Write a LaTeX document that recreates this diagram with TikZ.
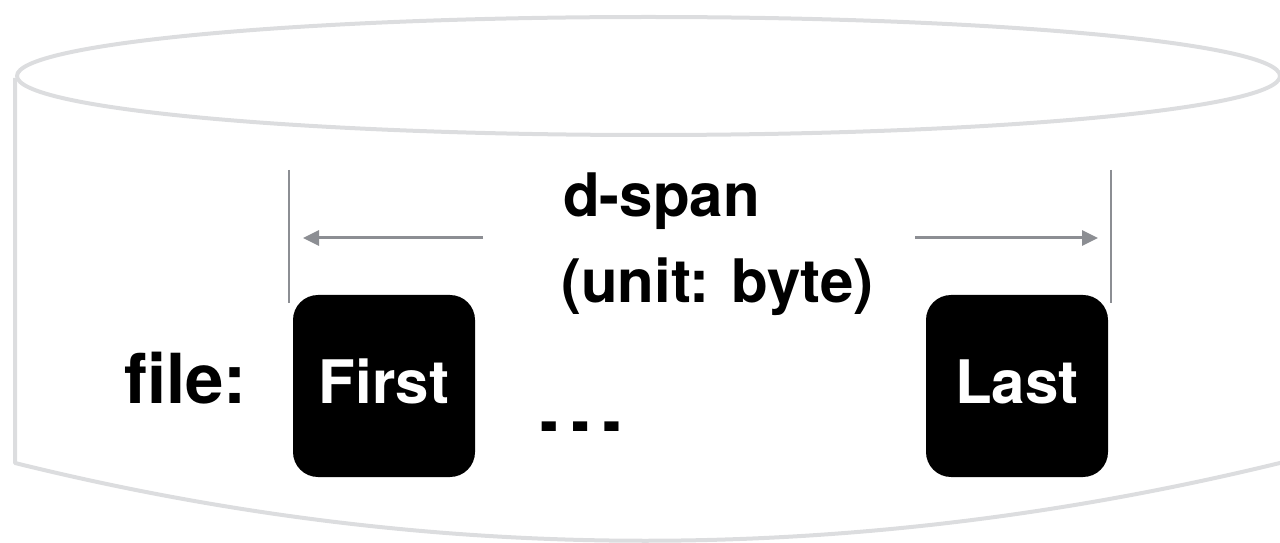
\documentclass[tikz,border=0pt]{standalone}
\usepackage{fontspec}
\setmainfont{TeX Gyre Heros}
\usetikzlibrary{arrows.meta}

\definecolor{shell}{HTML}{DCDDDF}
\definecolor{dimgray}{HTML}{8C8E93}

\tikzset{
  shellline/.style={draw=shell, line width=4bp, line join=round},
  extline/.style={draw=dimgray, line width=2.5bp},
  dimarrow/.style={draw=dimgray, line width=3bp, -{Triangle[length=16bp, width=15bp]}},
  blockbox/.style={fill=black, rounded corners=25bp},
  label/.style={inner sep=0pt, anchor=base west, font=\fontsize{60bp}{70bp}\selectfont\bfseries},
  blocktext/.style={inner sep=0pt, anchor=base, text=white, font=\fontsize{60bp}{70bp}\selectfont\bfseries},
}

\begin{document}
\begin{tikzpicture}[x=1bp, y=-1bp]
  \useasboundingbox (0,0) rectangle (1280,543);

  % cylinder body: left side and curved bottom (right side lies past the edge)
  \draw[shellline] (15,78) -- (15,463)
    .. controls (436,567) and (858,567) .. (1288,461);
  % cylinder lid
  \draw[shellline] (648.5,76) ellipse [x radius=631.5, y radius=59];

  % data blocks
  \fill[blockbox] (293,295) rectangle (475,477);
  \fill[blockbox] (926,295) rectangle (1108,477);
  \node[blocktext] (first) at (384,403) {First};
  \node[blocktext] (last) at (1017,403) {Last};

  \node[inner sep=0pt, anchor=base east, font=\fontsize{69bp}{80bp}\selectfont\bfseries]
    (file) at (247,403) {file:};

  \node[inner sep=0pt, anchor=base] (dots) at (581,431)
    {\scalebox{1.07}[0.75]{\fontsize{88bp}{88bp}\selectfont\bfseries …}};

  % extent markers
  \coordinate (lt) at (289,170);
  \coordinate (lb) at (289,303);
  \coordinate (rt) at (1111,170);
  \coordinate (rb) at (1111,303);
  \draw[extline] (lt) -- (lb);
  \draw[extline] (rt) -- (rb);

  \coordinate (la) at (483,238);
  \coordinate (lh) at (303,238);
  \coordinate (ra) at (915,238);
  \coordinate (rh) at (1098,238);
  \draw[dimarrow] (la) -- (lh);
  \draw[dimarrow] (ra) -- (rh);

  \node[label] (span) at (563,217) {d-span};
  \node[label] (unit) at (561,303) {(unit: byte)};
\end{tikzpicture}
\end{document}
